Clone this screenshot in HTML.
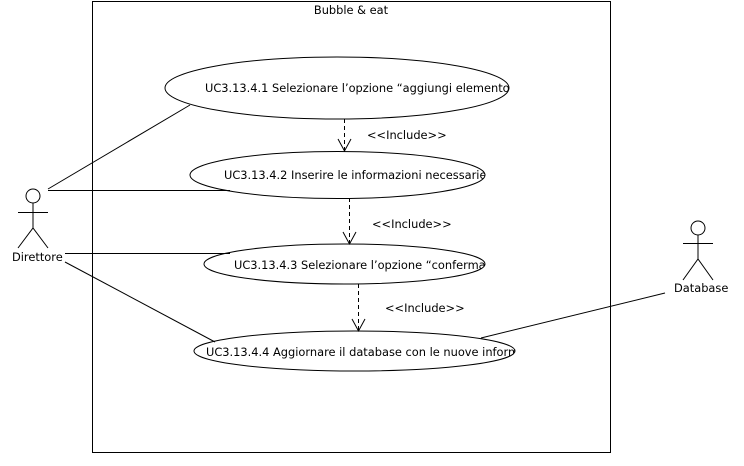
<!DOCTYPE html>
<html><head><style>html,body{margin:0;padding:0;background:#fff;}svg{display:block;}text{font-family:"DejaVu Sans","Liberation Sans",sans-serif;font-size:11.4px;fill:#000;}</style></head>
<body>
<svg width="744" height="466" viewBox="0 0 744 466" xmlns="http://www.w3.org/2000/svg">
<defs>
<clipPath id="c1"><ellipse cx="337" cy="88" rx="172" ry="31"/></clipPath>
<clipPath id="c2"><ellipse cx="337.5" cy="175" rx="147.5" ry="23.5"/></clipPath>
<clipPath id="c3"><ellipse cx="344.5" cy="264" rx="140.5" ry="20"/></clipPath>
<clipPath id="c4"><ellipse cx="354.5" cy="351" rx="160.5" ry="20"/></clipPath>
</defs>
<g stroke="#000" stroke-width="1" fill="none">
<rect x="92.5" y="1.5" width="518" height="451"/>
<line x1="48" y1="189" x2="190" y2="105"/>
<line x1="48" y1="190.5" x2="230" y2="190.5"/>
<line x1="65" y1="253.5" x2="230" y2="253.5"/>
<line x1="65" y1="262" x2="215" y2="342"/>
<line x1="481" y1="338" x2="665" y2="293"/>
<ellipse cx="337" cy="88" rx="172" ry="31"/>
<ellipse cx="337.5" cy="175" rx="147.5" ry="23.5"/>
<ellipse cx="344.5" cy="264" rx="140.5" ry="20"/>
<ellipse cx="354.5" cy="351" rx="160.5" ry="20"/>
<g stroke-dasharray="4,3">
<line x1="344.5" y1="119" x2="344.5" y2="150"/>
<line x1="349.5" y1="198" x2="349.5" y2="243"/>
<line x1="358.5" y1="284" x2="358.5" y2="330"/>
</g>
<polyline points="338,139 344.5,151 351,139"/>
<polyline points="343,232 349.5,244 356,232"/>
<polyline points="352,319 358.5,331 365,319"/>
<circle cx="33" cy="196" r="7"/>
<line x1="33" y1="203" x2="33" y2="228"/>
<line x1="18" y1="212.5" x2="48" y2="212.5"/>
<polyline points="18,248 33,228 48,248"/>
<circle cx="698" cy="228" r="7"/>
<line x1="698" y1="235" x2="698" y2="259"/>
<line x1="683" y1="243.5" x2="713" y2="243.5"/>
<polyline points="683,280 698,259 713,280"/>
</g>
<text x="351" y="14" text-anchor="middle">Bubble &amp; eat</text>
<text x="205" y="92" clip-path="url(#c1)">UC3.13.4.1 Selezionare l’opzione “aggiungi elemento”</text>
<text x="224" y="179" clip-path="url(#c2)">UC3.13.4.2 Inserire le informazioni necessarie</text>
<text x="234" y="269" clip-path="url(#c3)">UC3.13.4.3 Selezionare l’opzione “conferma”</text>
<text x="206" y="356" clip-path="url(#c4)">UC3.13.4.4 Aggiornare il database con le nuove informazioni</text>
<text x="367" y="139">&lt;&lt;Include&gt;&gt;</text>
<text x="372" y="228">&lt;&lt;Include&gt;&gt;</text>
<text x="385" y="312">&lt;&lt;Include&gt;&gt;</text>
<text x="12" y="261">Direttore</text>
<text x="674" y="292">Database</text>
</svg>
</body></html>
